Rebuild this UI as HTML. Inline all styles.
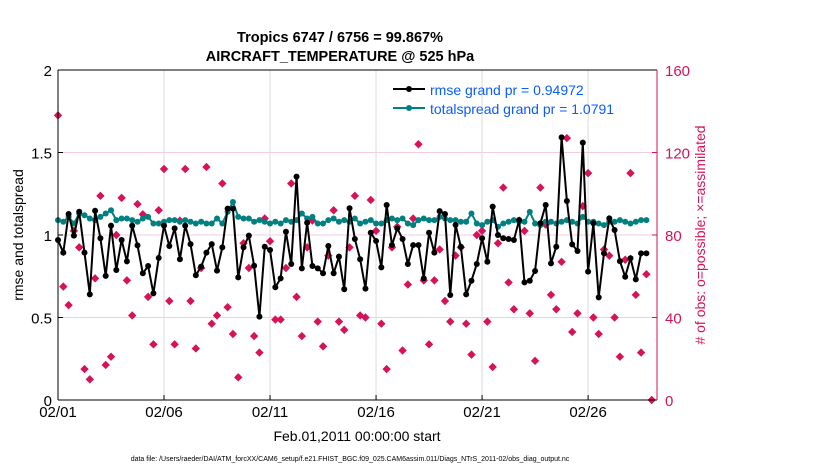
<!DOCTYPE html>
<html><head><meta charset="utf-8"><style>
body{margin:0;background:#fff;}
svg{display:block;font-family:"Liberation Sans",sans-serif;}
</style></head><body>
<svg id="chart" width="830" height="470">
<g id="grid"></g><g id="series"></g><g id="axes"></g>
<text x="340" y="42" text-anchor="middle" font-size="14.5" font-weight="bold">Tropics 6747 / 6756 = 99.867%</text>
<text x="340" y="61" text-anchor="middle" font-size="14.5" font-weight="bold">AIRCRAFT_TEMPERATURE @ 525 hPa</text>
<text transform="translate(23,235) rotate(-90)" text-anchor="middle" font-size="14">rmse and totalspread</text>
<text transform="translate(705,235) rotate(-90)" text-anchor="middle" font-size="14" fill="#d6135a"># of obs: o=possible; ×=assimilated</text>
<text x="357" y="441" text-anchor="middle" font-size="14">Feb.01,2011 00:00:00 start</text>
<text x="350" y="461" text-anchor="middle" font-size="7">data file: /Users/raeder/DAI/ATM_forcXX/CAM6_setup/f.e21.FHIST_BGC.f09_025.CAM6assim.011/Diags_NTrS_2011-02/obs_diag_output.nc</text>
<g>
<line x1="393" y1="89" x2="425" y2="89" stroke="#000" stroke-width="2"/><circle cx="409" cy="89" r="3" fill="#000"/>
<text x="430" y="95" font-size="14" fill="#0a5cff">rmse grand pr = 0.94972</text>
<line x1="393" y1="108" x2="425" y2="108" stroke="#008080" stroke-width="2"/><circle cx="409" cy="108" r="3" fill="#008080"/>
<text x="430" y="114" font-size="14" fill="#0a5cff">totalspread grand pr = 1.0791</text>
</g>
</svg>
<script>
const dayTicks = ["02/01","02/06","02/11","02/16","02/21","02/26"];
const dayTickIdx = [0,20,40,60,80,100];
const leftTicks = [0,0.5,1,1.5,2];
const rightTicks = [0,40,80,120,160];
const rmse = [0.97,0.893,1.127,0.996,1.141,0.893,0.640,1.147,0.980,0.752,1.057,0.788,0.970,0.840,1.057,0.937,0.768,0.812,0.646,0.861,1.057,0.933,1.040,0.853,1.057,0.945,0.756,0.808,0.893,0.945,0.784,0.925,1.160,1.160,0.743,0.925,0.996,0.814,0.505,0.929,0.909,0.683,0.737,1.020,0.824,1.354,0.798,1.075,0.812,0.798,0.768,0.933,0.768,0.869,0.671,1.162,0.976,0.853,0.675,1.014,0.964,0.804,1.182,0.939,1.040,0.976,0.824,0.939,0.939,0.737,1.014,0.893,1.145,1.127,0.636,1.061,0.929,0.640,0.723,0.824,0.980,0.838,1.172,1.0,0.980,0.976,0.970,1.091,0.713,0.723,0.782,1.071,1.182,0.828,0.929,1.592,1.206,0.943,0.903,1.560,0.778,1.071,0.622,0.889,1.101,1.030,0.842,0.747,0.859,0.731,0.889,0.889];
const spread = [1.09,1.08,1.11,1.07,1.13,1.12,1.10,1.09,1.11,1.13,1.15,1.09,1.10,1.10,1.09,1.08,1.10,1.11,1.07,1.07,1.08,1.09,1.09,1.08,1.09,1.08,1.07,1.08,1.07,1.07,1.10,1.07,1.14,1.20,1.11,1.10,1.10,1.08,1.09,1.08,1.07,1.08,1.07,1.09,1.08,1.09,1.13,1.10,1.11,1.07,1.07,1.09,1.10,1.08,1.09,1.08,1.10,1.07,1.08,1.09,1.07,1.07,1.09,1.10,1.09,1.10,1.07,1.06,1.09,1.10,1.09,1.09,1.11,1.10,1.09,1.09,1.08,1.08,1.13,1.07,1.06,1.08,1.09,1.05,1.07,1.08,1.09,1.08,1.08,1.14,1.07,1.06,1.08,1.08,1.07,1.08,1.09,1.08,1.07,1.11,1.08,1.08,1.07,1.06,1.08,1.08,1.09,1.08,1.07,1.08,1.09,1.09];
const nobs = [138,55,46,82,74,15,10,59,99,17,21,80,98,58,41,95,90,50,27,92,112,48,27,87,112,48,25,64,113,37,41,105,45,32,11,76,64,31,23,88,77,39,39,64,105,50,31,74,87,38,26,70,92,38,34,74,99,41,40,97,82,37,15,74,84,24,56,88,124,58,27,58,73,48,38,70,74,37,22,80,82,38,16,76,103,57,44,87,82,42,19,103,85,51,44,67,127,33,42,94,110,40,32,73,70,40,21,68,110,51,23,61,0];

const L=58,R=657,T=70,B=400,N=113;
const xs=i=>L+i*(R-L)/N;
const yl=v=>B-v*(B-T)/2;
const yr=v=>B-v*(B-T)/160;
const NS="http://www.w3.org/2000/svg";
function mk(tag,parent,attrs){const e=document.createElementNS(NS,tag);for(const k in attrs)e.setAttribute(k,attrs[k]);parent.appendChild(e);return e;}
const grid=document.getElementById('grid'),ser=document.getElementById('series'),ax=document.getElementById('axes');
leftTicks.forEach((v,k)=>{if(v>0&&v<2){const g=mk('line',grid,{x1:L,x2:R,y1:yl(v),y2:yl(v),stroke:'#f6cde0','stroke-width':1});

}
const t=mk('text',ax,{x:L-6,y:yl(v)+6,'text-anchor':'end','font-size':15});t.textContent=v;


mk('line',ax,{x1:L,x2:L+5,y1:yl(v),y2:yl(v),stroke:'#000'});});
rightTicks.forEach(v=>{const t=mk('text',ax,{x:R+8,y:yr(v)+6,'font-size':15,fill:'#d6135a'});t.textContent=v;


mk('line',ax,{x1:R-5,x2:R,y1:yr(v),y2:yr(v),stroke:'#d6135a'});});
dayTicks.forEach((d,k)=>{const x=xs(dayTickIdx[k]);if(k>0){const g=mk('line',grid,{x1:x,x2:x,y1:T,y2:B,stroke:'#dcdcdc'});

}
mk('line',ax,{x1:x,x2:x,y1:B,y2:B-5,stroke:'#000'});
const t=mk('text',ax,{x:x,y:B+17,'text-anchor':'middle','font-size':15});t.textContent=d;

});
mk('line',ax,{x1:L,x2:R,y1:T,y2:T,stroke:'#000'});
mk('line',ax,{x1:L,x2:R,y1:B,y2:B,stroke:'#000'});
mk('line',ax,{x1:L,x2:L,y1:T,y2:B,stroke:'#000'});
mk('line',ax,{x1:R,x2:R,y1:T,y2:B,stroke:'#d6135a'});
nobs.forEach((v,i)=>{const x=xs(i),y=yr(v);const p=mk('polygon',ser,{points:`${x},${y-4.2} ${x+4.2},${y} ${x},${y+4.2} ${x-4.2},${y}`,fill:'#d6135a'});

});
function line(arr,col,name){const pl=mk('polyline',ser,{points:arr.map((v,i)=>xs(i)+','+yl(v)).join(' '),fill:'none',stroke:col,'stroke-width':2});


arr.forEach((v,i)=>{const c=mk('circle',ser,{cx:xs(i),cy:yl(v),r:3,fill:col});

});}
line(spread,'#008080','totalspread');
line(rmse,'#000','rmse');
</script>
</body></html>
